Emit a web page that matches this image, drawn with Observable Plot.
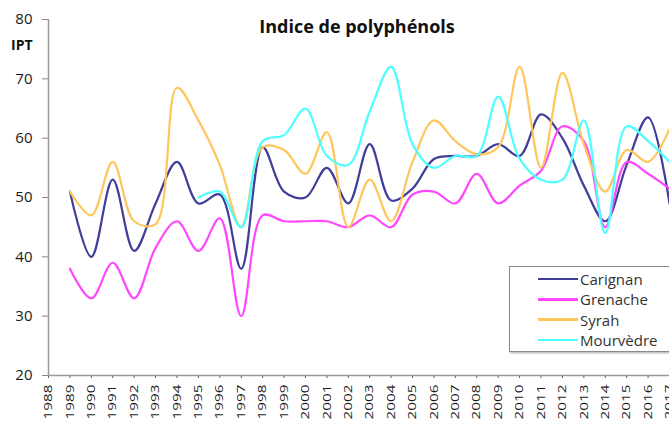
<!DOCTYPE html>
<html>
<head>
<meta charset="utf-8">
<script src="https://cdn.jsdelivr.net/npm/d3@7"></script>
<script src="https://cdn.jsdelivr.net/npm/@observablehq/plot@0.6"></script>
<style>
  html, body { margin: 0; padding: 0; background: #fff; }
  #wrap { position: relative; width: 669px; height: 424px; overflow: hidden; font-family: "Open Sans", sans-serif; }
  #chart { position: absolute; left: 0; top: 0; }
  #title { position: absolute; left: 357px; top: 14px; transform: translateX(-50%); font-weight: 700; font-size: 18px; color: #111; white-space: nowrap; }
  #ylab { position: absolute; left: 11px; top: 35px; font-weight: 700; font-size: 14px; color: #111; }
  #legend { position: absolute; left: 509px; top: 266px; width: 200px; height: 84px; border: 1.5px solid #8a8a8a; background: #fff; box-shadow: 1px 1px 2px #aaa; }
  .item { position: absolute; left: 28px; height: 20px; display: flex; align-items: center; font-size: 15px; color: #333; }
  .swatch { width: 40px; height: 2.5px; margin-right: 2px; }
</style>
</head>
<body>
<div id="wrap">
  <div id="chart"></div>
  <div id="title">Indice de polyphénols</div>
  <div id="ylab">IPT</div>
  <div id="legend"></div>
</div>
<script>
// Data
const years = [1989,1990,1991,1992,1993,1994,1995,1996,1997,1998,1999,2000,2001,2002,2003,2004,2005,2006,2007,2008,2009,2010,2011,2012,2013,2014,2015,2016,2017];
const xTickLabels = [1988,1989,1990,1991,1992,1993,1994,1995,1996,1997,1998,1999,2000,2001,2002,2003,2004,2005,2006,2007,2008,2009,2010,2011,2012,2013,2014,2015,2016,2017];
const yTickLabels = [20,30,40,50,60,70,80];

const carignan  = [51,40,53,41,49,56,49,50.5,38,58.5,51,50,55,49,59,49.5,51.5,56.5,57,57,59,57,64,60,52,46,55.5,63.5,49];
const grenache  = [38,33,39,33,41.5,46,41,46.5,30,47,46,46,46,45,47,45,50.5,51,49,54,49,52,54.5,62,59.5,45,56,54,51.5];
const syrah     = [51,47,56,46,45.5,68.5,63,55.5,45,58.5,58,54,61,45,53,46,56,63,59.5,57.3,58.5,72,55,71,59,51,58,56,61.5];
const mourvedre = [null,null,null,null,null,null,50,51,45,59.5,60.5,65,57,55.5,64.5,72,59,55,57,57,67,56.5,53,53,63,44,62,59.5,56];

const seriesNames  = ["Carignan","Grenache","Syrah","Mourvèdre"];
const seriesColors = ["#3f3f99","#ff47ff","#ffc65c","#4dffff"];
const seriesValues = [carignan, grenache, syrah, mourvedre];

const rows = seriesNames.flatMap((name, s) =>
  years.map((year, i) => ({ name, year, value: seriesValues[s][i] }))
).filter(d => d.value != null);

const chart = Plot.plot({
  width: 669,
  height: 424,
  marginLeft: 48,
  marginRight: 0,
  marginTop: 19,
  marginBottom: 49,
  style: { fontFamily: "Open Sans, sans-serif", background: "transparent", overflow: "visible" },
  x: { domain: [1988, 2017], label: null },
  y: { domain: [20, 80], label: null },
  color: { domain: seriesNames, range: seriesColors },
  marks: [
    Plot.axisY({ ticks: yTickLabels, tickSize: 6, tickPadding: 10, fontSize: 15, fontWeight: 500, stroke: "#888", fill: "#1a1a1a", label: null }),
    Plot.axisX({ ticks: xTickLabels, tickFormat: d => String(d), tickRotate: -90, tickSize: 3, tickPadding: 6, fontSize: 12.5, stroke: "#555", fill: "#1a1a1a", label: null, className: "xticks" }),
    Plot.ruleX([1988], { stroke: "#999", strokeWidth: 1.5 }),
    Plot.ruleY([20], { stroke: "#999", strokeWidth: 1.5 }),
    Plot.line(rows, { x: "year", y: "value", z: "name", stroke: "name", strokeWidth: 2.2, curve: "catmull-rom" })
  ]
});
document.getElementById("chart").appendChild(chart);

// stretch the rotated year labels along their reading direction, as in the reference
chart.querySelectorAll("g[aria-label='x-axis tick label'] text").forEach(t => {
  const tr = t.getAttribute("transform") || "";
  t.setAttribute("transform", tr + " scale(1.22,0.92)");
});

// Legend
const legend = document.getElementById("legend");
seriesNames.forEach((name, i) => {
  const item = document.createElement("div");
  item.className = "item";
  item.style.top = (2 + i * 20.3) + "px";
  const sw = document.createElement("div");
  sw.className = "swatch";
  sw.style.background = seriesColors[i];
  const tx = document.createElement("span");
  tx.textContent = name;
  item.appendChild(sw);
  item.appendChild(tx);
  legend.appendChild(item);
});
</script>
</body>
</html>
